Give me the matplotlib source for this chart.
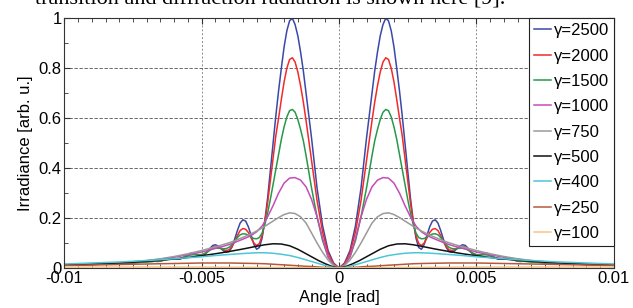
import matplotlib.pyplot as plt
import numpy as np

plt.rcParams['font.family'] = ['Liberation Sans', 'DejaVu Sans']

# angle grid (rad), right half only -- the curves are symmetric about 0
th_fine = [0, 0.0002, 0.0004, 0.0006, 0.0008, 0.001, 0.0011, 0.0012, 0.0013,
           0.0014, 0.0015, 0.0016, 0.0017, 0.0018, 0.0019, 0.002, 0.0021,
           0.0022, 0.0023, 0.0024, 0.0025, 0.0026, 0.0027, 0.0028, 0.0029,
           0.003, 0.0031, 0.0032, 0.0033, 0.0034, 0.0035, 0.0036, 0.0037,
           0.0038, 0.0039, 0.004, 0.0041, 0.0042, 0.0043, 0.0044, 0.0045,
           0.0046, 0.0047, 0.0048, 0.0049, 0.005, 0.0051, 0.0052, 0.0053,
           0.0054, 0.0055, 0.0056, 0.0057, 0.0058, 0.0059, 0.006, 0.0061,
           0.0062, 0.0063, 0.0064, 0.0065, 0.0066, 0.0067, 0.0068, 0.0069,
           0.007, 0.0075, 0.008, 0.0085, 0.009, 0.0095, 0.01]
g2500 = [0, 0.02, 0.07, 0.17, 0.32, 0.52, 0.61, 0.70, 0.79, 0.865, 0.93,
         0.975, 1.0, 0.99, 0.95, 0.885, 0.80, 0.71, 0.61, 0.50, 0.39, 0.28,
         0.19, 0.12, 0.082, 0.075, 0.095, 0.13, 0.165, 0.188, 0.193, 0.18,
         0.15, 0.115, 0.083, 0.066, 0.063, 0.068, 0.078, 0.088, 0.093, 0.09,
         0.078, 0.063, 0.053, 0.049, 0.05, 0.055, 0.059, 0.059, 0.054, 0.046,
         0.039, 0.035, 0.035, 0.037, 0.039, 0.039, 0.036, 0.031, 0.027, 0.026,
         0.027, 0.028, 0.027, 0.025, 0.021, 0.019, 0.016, 0.014, 0.013, 0.012]
g2000 = [0, 0.017, 0.06, 0.145, 0.27, 0.43, 0.51, 0.59, 0.665, 0.73, 0.785,
         0.825, 0.842, 0.835, 0.80, 0.745, 0.675, 0.60, 0.53, 0.44, 0.35,
         0.26, 0.185, 0.13, 0.098, 0.09, 0.10, 0.12, 0.142, 0.155, 0.158,
         0.15, 0.13, 0.105, 0.085, 0.073, 0.07, 0.073, 0.079, 0.084, 0.086,
         0.083, 0.075, 0.064, 0.056, 0.052, 0.052, 0.054, 0.056, 0.056, 0.052,
         0.046, 0.04, 0.037, 0.036, 0.037, 0.038, 0.038, 0.035, 0.031, 0.028,
         0.027, 0.027, 0.027, 0.026, 0.025, 0.021, 0.019, 0.016, 0.014, 0.013,
         0.012]
g1500 = [0, 0.013, 0.045, 0.11, 0.205, 0.32, 0.385, 0.45, 0.51, 0.555, 0.595,
         0.624, 0.635, 0.63, 0.605, 0.565, 0.515, 0.455, 0.395, 0.335, 0.275,
         0.22, 0.175, 0.14, 0.122, 0.117, 0.118, 0.124, 0.131, 0.136, 0.137,
         0.133, 0.122, 0.107, 0.093, 0.083, 0.078, 0.077, 0.078, 0.079, 0.079,
         0.077, 0.071, 0.064, 0.058, 0.054, 0.053, 0.053, 0.053, 0.052, 0.049,
         0.045, 0.041, 0.038, 0.037, 0.036, 0.036, 0.035, 0.033, 0.031, 0.029,
         0.028, 0.027, 0.026, 0.025, 0.024, 0.021, 0.019, 0.016, 0.014, 0.013,
         0.012]

th_mid = [0, 0.0002, 0.0004, 0.0006, 0.0008, 0.001, 0.0012, 0.0014, 0.0016,
          0.0018, 0.002, 0.0022, 0.0024, 0.0026, 0.0028, 0.003, 0.0032,
          0.0034, 0.0036, 0.0038, 0.004, 0.0043, 0.0046, 0.005, 0.0055, 0.006,
          0.0065, 0.007, 0.0075, 0.008, 0.009, 0.01]
g1000 = [0, 0.012, 0.045, 0.12, 0.205, 0.275, 0.325, 0.352, 0.362, 0.36, 0.34,
         0.30, 0.25, 0.205, 0.168, 0.145, 0.13, 0.12, 0.111, 0.102, 0.094,
         0.084, 0.076, 0.064, 0.053, 0.043, 0.035, 0.029, 0.024, 0.02, 0.016,
         0.012]
g750 = [0, 0.01, 0.032, 0.063, 0.10, 0.14, 0.18, 0.205, 0.218, 0.221, 0.214,
        0.202, 0.188, 0.174, 0.16, 0.148, 0.137, 0.127, 0.118, 0.109, 0.101,
        0.091, 0.082, 0.07, 0.057, 0.046, 0.037, 0.03, 0.025, 0.021, 0.016,
        0.012]

th_low = [0, 0.00025, 0.0005, 0.00075, 0.001, 0.00125, 0.0015, 0.0018, 0.0021,
          0.0024, 0.0027, 0.003, 0.0035, 0.004, 0.0045, 0.005, 0.0055, 0.006,
          0.0065, 0.007, 0.0075, 0.008, 0.009, 0.01]
g500 = [0, 0.006, 0.017, 0.03, 0.045, 0.06, 0.075, 0.089, 0.096, 0.097, 0.093,
        0.087, 0.076, 0.066, 0.057, 0.049, 0.042, 0.036, 0.031, 0.027, 0.023,
        0.02, 0.016, 0.013]
g400 = [0, 0.003, 0.01, 0.018, 0.026, 0.034, 0.042, 0.05, 0.055, 0.059, 0.061,
        0.061, 0.058, 0.054, 0.05, 0.045, 0.041, 0.037, 0.033, 0.03, 0.027,
        0.024, 0.02, 0.016]
g250 = [0, 0.001, 0.002, 0.004, 0.006, 0.007, 0.009, 0.011, 0.013, 0.015,
        0.017, 0.018, 0.019, 0.02, 0.02, 0.02, 0.019, 0.018, 0.017, 0.016,
        0.015, 0.014, 0.012, 0.01]
g100 = [0, 0.0003, 0.0006, 0.0009, 0.001, 0.0013, 0.0015, 0.0018, 0.002,
        0.0022, 0.0025, 0.0027, 0.003, 0.0032, 0.0034, 0.0036, 0.0037, 0.0038,
        0.0039, 0.004, 0.004, 0.004, 0.004, 0.004]

labels = ['γ=2500', 'γ=2000', 'γ=1500', 'γ=1000', 'γ=750', 'γ=500',
          'γ=400', 'γ=250', 'γ=100']
series = [(th_fine, g2500), (th_fine, g2000), (th_fine, g1500),
          (th_mid, g1000), (th_mid, g750),
          (th_low, g500), (th_low, g400), (th_low, g250), (th_low, g100)]
colors = ['#3a48a8', '#f22a2a', '#27994a', '#c64cb8', '#9a9a9a', '#111111',
          '#4cc6d8', '#b5583a', '#f8c48a']


def mirror(th, v):
    th = np.asarray(th)
    v = np.asarray(v)
    return np.concatenate([-th[::-1], th[1:]]), np.concatenate([v[::-1], v[1:]])


fig = plt.figure(figsize=(6.33, 3.08), dpi=100)
ax = fig.add_axes([0.1016, 0.1299, 0.868, 0.8107])

for (th, v), c, lab in zip(series, colors, labels):
    x, y = mirror(th, v)
    ax.plot(x, y, color=c, lw=1.1, label=lab, solid_joinstyle='round')

ax.set_xlim(-0.01, 0.01)
ax.set_ylim(0, 1)
ax.set_xticks([-0.01, -0.005, 0, 0.005, 0.01])
ax.set_xticklabels(['-0.01', '-0.005', '0', '0.005', '0.01'])
ax.set_yticks([0, 0.2, 0.4, 0.6, 0.8, 1])
ax.set_yticklabels(['0', '0.2', '0.4', '0.6', '0.8', '1'])
ax.set_xticks(np.arange(-0.01, 0.01001, 0.0005), minor=True)
ax.set_yticks(np.arange(0, 1.001, 0.1), minor=True)
ax.tick_params(which='both', direction='in', top=True, right=True,
               labelsize=12, color='#333333', pad=2)
ax.tick_params(which='major', length=4)
ax.tick_params(which='minor', length=3)
# MATLAB-ish grid: lighter dotted verticals, darker dashed horizontals
ax.xaxis.grid(True, which='major', color='#8a8a8a', lw=0.7, ls=(0, (2, 2)))
ax.yaxis.grid(True, which='major', color='#505050', lw=0.6, ls=(0, (4, 2)))
for s in ax.spines.values():
    s.set_color('#333333')
    s.set_linewidth(0.8)

ax.set_xlabel('Angle [rad]', fontsize=12, labelpad=3)
ax.set_ylabel('Irradiance [arb. u.]', fontsize=12, labelpad=4)

leg = ax.legend(loc='upper right', borderaxespad=0, fancybox=False,
                fontsize=12, handlelength=1.0, handletextpad=0.15,
                labelspacing=0.62, borderpad=0.3, framealpha=1)
leg.get_frame().set_edgecolor('#222222')
leg.get_frame().set_linewidth(0.8)

# clipped line of running text from the page above the figure
fig.text(505 / 633, 1 - 4 / 308, 'transition and diffraction radiation is shown here [9].',
         family='Liberation Serif', fontsize=16, ha='right', va='baseline')

fig.savefig('out.png', dpi=100)
